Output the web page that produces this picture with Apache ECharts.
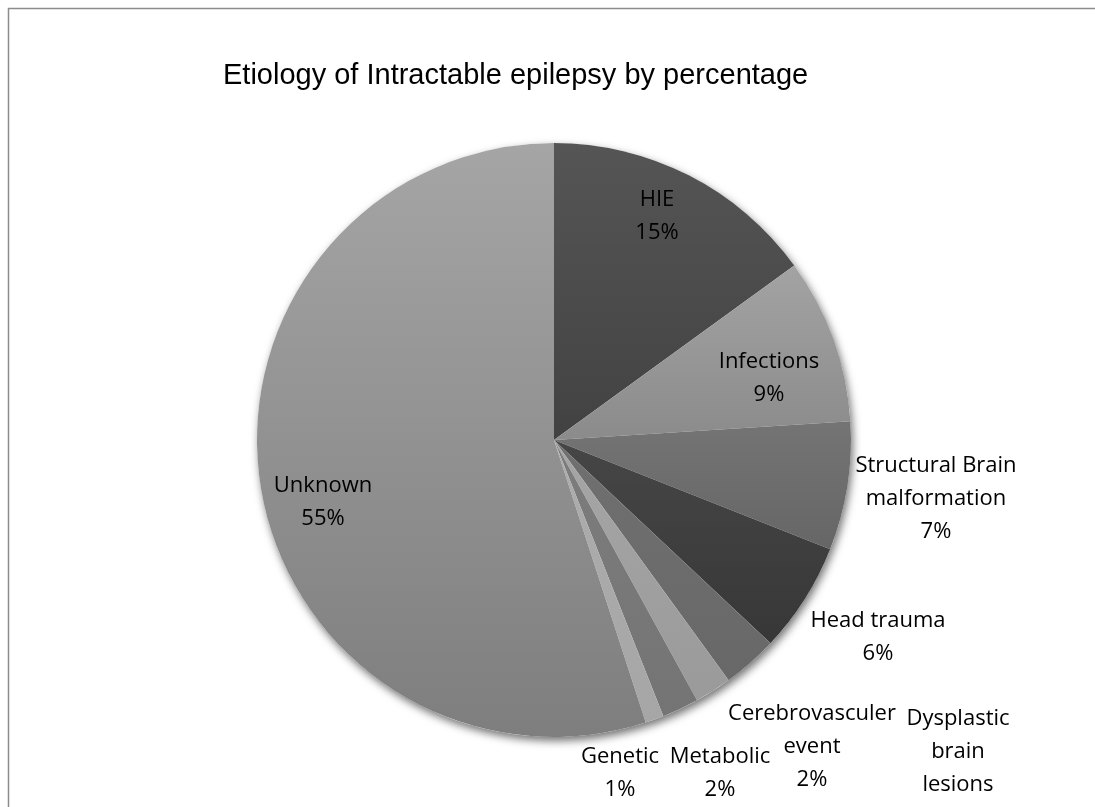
<!DOCTYPE html>
<html>
<head>
<meta charset="utf-8">
<script src="https://cdn.jsdelivr.net/npm/echarts@6/dist/echarts.min.js"></script>
<style>
  html, body { margin: 0; padding: 0; background: #fff; }
  #chart { width: 1095px; height: 807px; }
</style>
</head>
<body>
<div id="chart"></div>
<script>
// ---- data ----
const categories = ['HIE', 'Infections', 'Structural Brain malformation', 'Head trauma',
  'Dysplastic brain lesions', 'Cerebrovasculer event', 'Metabolic', 'Genetic', 'Unknown'];
const values = [15, 9, 7, 6, 3, 2, 2, 1, 55];
const labelText = ['HIE', 'Infections', 'Structural Brain\nmalformation', 'Head trauma',
  'Dysplastic\nbrain\nlesions', 'Cerebrovasculer\nevent', 'Metabolic', 'Genetic', 'Unknown'];
const titleText = 'Etiology of Intractable epilepsy by percentage';

// ---- styles (not data) ----
const gradStops = [
  ['#555555', '#424242'],
  ['#a3a3a3', '#8b8b8b'],
  ['#747474', '#666666'],
  ['#464646', '#373737'],
  ['#707070', '#686868'],
  ['#a6a6a6', '#9a9a9a'],
  ['#7d7d7d', '#747474'],
  ['#adadad', '#a6a6a6'],
  ['#a5a5a5', '#7e7e7e']
];
const labelPos = [
  [657, 216], [769, 378], [936, 499], [878, 637],
  [958, 768], [812, 747], [720, 773], [620, 773], [323, 502]
];

const chart = echarts.init(document.getElementById('chart'), null, { renderer: 'canvas' });

const pieData = categories.map((name, i) => ({
  name: name,
  value: values[i],
  itemStyle: {
    color: new echarts.graphic.LinearGradient(0, 0, 0, 1, [
      { offset: 0, color: gradStops[i][0] },
      { offset: 1, color: gradStops[i][1] }
    ])
  }
}));

const option = {
  backgroundColor: '#ffffff',
  animation: false,
  title: {
    text: titleText,
    left: 218,
    top: 56,
    textStyle: {
      fontFamily: '"Liberation Sans", Arial, sans-serif',
      fontSize: 29,
      fontWeight: 'normal',
      color: '#000000'
    }
  },
  graphic: [{
    type: 'rect',
    shape: { x: 8.5, y: 8.5, width: 1200, height: 900 },
    style: { fill: 'none', stroke: '#8c8c8c', lineWidth: 1.5 },
    silent: true,
    z: -10
  }],
  series: [
    {
      // soft shadow disc behind the pie
      type: 'pie',
      silent: true,
      center: [554, 440],
      radius: 297,
      z: 1,
      label: { show: false },
      labelLine: { show: false },
      data: [{ value: 1, itemStyle: { color: '#ffffff', shadowBlur: 9, shadowOffsetX: 2, shadowOffsetY: 4, shadowColor: 'rgba(0,0,0,0.55)' } }]
    },
    {
      type: 'pie',
      center: [554, 440],
      radius: 297,
      startAngle: 90,
      clockwise: true,
      avoidLabelOverlap: false,
      z: 2,
      itemStyle: { borderWidth: 0 },
      label: {
        show: true,
        position: 'inside',
        formatter: (p) => labelText[p.dataIndex] + '\n' + Math.round(p.percent) + '%',
        fontFamily: '"Open Sans", sans-serif',
        fontSize: 22,
        lineHeight: 33,
        color: '#000000',
        align: 'center'
      },
      labelLine: { show: false },
      labelLayout: (params) => ({
        x: labelPos[params.dataIndex][0],
        y: labelPos[params.dataIndex][1],
        align: 'center',
        verticalAlign: 'middle'
      }),
      data: pieData
    }
  ]
};

chart.setOption(option);
</script>
</body>
</html>
